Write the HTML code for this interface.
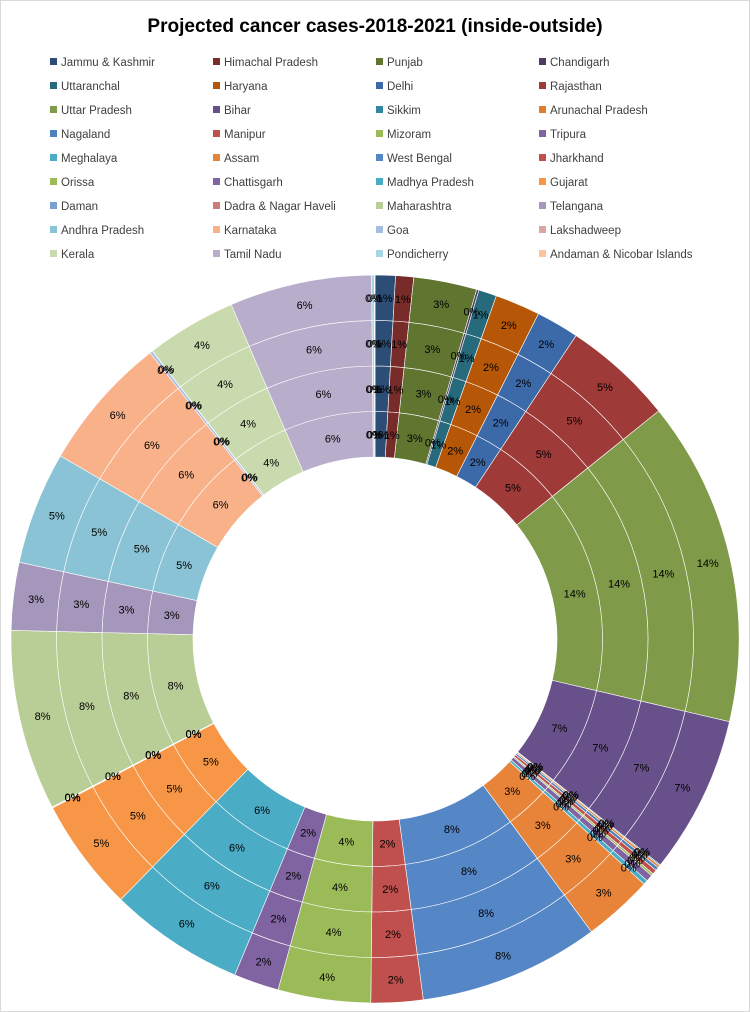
<!DOCTYPE html>
<html><head><meta charset="utf-8"><style>
body{margin:0;background:#fff;}
#wrap{width:748px;height:1010px;border:1px solid #d9d9d9;position:relative;overflow:hidden;font-family:"Liberation Sans",sans-serif;}
</style></head><body><div id="wrap">
<svg id="s" width="748" height="1010" xmlns="http://www.w3.org/2000/svg">
<text x="374" y="31" text-anchor="middle" font-size="19" font-weight="bold" fill="#000">Projected cancer cases-2018-2021 (inside-outside)</text>
</svg></div>
<script>
var D=[
["Jammu & Kashmir",0.9,"#2c4d75"],["Himachal Pradesh",0.8,"#772c2a"],["Punjab",2.8,"#5f7530"],["Chandigarh",0.1,"#4d3b62"],
["Uttaranchal",0.8,"#276a7c"],["Haryana",2.0,"#b65708"],["Delhi",1.9,"#3c69a8"],["Rajasthan",4.9,"#9e3a38"],
["Uttar Pradesh",14.4,"#7f9a48"],["Bihar",7.0,"#68518a"],["Sikkim",0.05,"#31859c"],["Arunachal Pradesh",0.1,"#e07e30"],
["Nagaland",0.15,"#4f81bd"],["Manipur",0.2,"#c0504d"],["Mizoram",0.1,"#9bbb59"],["Tripura",0.3,"#8064a2"],
["Meghalaya",0.2,"#4bacc6"],["Assam",3.1,"#e8843a"],["West Bengal",8.0,"#5586c5"],["Jharkhand",2.3,"#c0504d"],
["Orissa",4.1,"#9bbb59"],["Chattisgarh",2.0,"#8064a2"],["Madhya Pradesh",6.0,"#4bacc6"],["Gujarat",5.0,"#f79646"],
["Daman",0.02,"#7ca0d0"],["Dadra & Nagar Haveli",0.03,"#cd7b7a"],["Maharashtra",8.0,"#b9cd96"],["Telangana",3.0,"#a596bb"],
["Andhra Pradesh",5.0,"#8ac3d6"],["Karnataka",6.0,"#f9b18a"],["Goa",0.12,"#a7bde0"],["Lakshadweep",0.01,"#dba5a4"],
["Kerala",4.0,"#c9daae"],["Tamil Nadu",6.3,"#b8adcb"],["Pondicherry",0.12,"#a6d6e4"],["Andaman & Nicobar Islands",0.03,"#fbc49e"]];
var s=document.getElementById('s'),NS="http://www.w3.org/2000/svg";
function el(t,a,txt){var e=document.createElementNS(NS,t);for(var k in a)e.setAttribute(k,a[k]);if(txt!=null)e.textContent=txt;s.appendChild(e);return e;}
D.forEach(function(d,i){var c=i%4,r=Math.floor(i/4);var x=49+c*163,y=57+r*24;
el('rect',{x:x,y:y,width:7,height:7,fill:d[2]});el('text',{x:x+11,y:y+8,'font-size':11.5,fill:'#404040'},d[0]);});
var tot=0;D.forEach(function(d){tot+=d[1];});
var cx=374,cy=638,R0=182,W=45.5;
function pt(r,a){return [cx+r*Math.sin(a),cy-r*Math.cos(a)];}
for(var ring=0;ring<4;ring++){var ri=R0+ring*W,ro=ri+W,acc=0;
D.forEach(function(d){var a0=acc/tot*2*Math.PI;acc+=d[1];var a1=acc/tot*2*Math.PI;var lg=(a1-a0)>Math.PI?1:0;
var p1=pt(ro,a0),p2=pt(ro,a1),p3=pt(ri,a1),p4=pt(ri,a0);
el('path',{d:'M'+p1+'A'+ro+','+ro+' 0 '+lg+' 1 '+p2+'L'+p3+'A'+ri+','+ri+' 0 '+lg+' 0 '+p4+'Z',fill:d[2],stroke:'#fff','stroke-width':0.6});});}
for(var ring=0;ring<4;ring++){var rm=R0+ring*W+W/2,acc=0;
D.forEach(function(d){var am=(acc+d[1]/2)/tot*2*Math.PI;acc+=d[1];var p=pt(rm,am);
el('text',{x:p[0],y:p[1]+4,'font-size':11,'text-anchor':'middle',fill:'#000'},Math.round(d[1]/tot*100)+'%');});}
</script></body></html>
